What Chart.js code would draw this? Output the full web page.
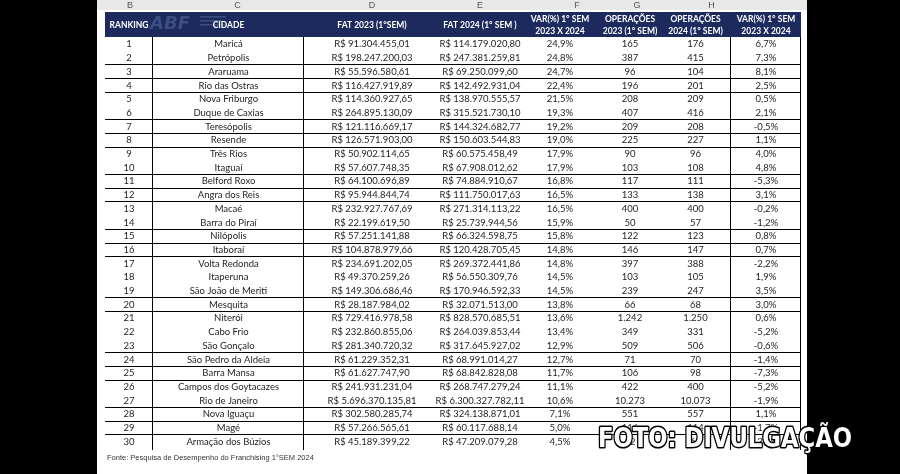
<!DOCTYPE html>
<html>
<head>
<meta charset="utf-8">
<script src="https://cdn.jsdelivr.net/npm/chart.js@4.4.1/dist/chart.umd.min.js"></script>
<style>
	html, body { margin: 0; padding: 0; background: #000; }
	canvas { display: block; }
</style>
</head>
<body>
<canvas id="tabela" width="900" height="474"></canvas>
<script>
// dados da tabela (Pesquisa ABF 1°SEM 2024)
const rankings = ['1','2','3','4','5','6','7','8','9','10','11','12','13','14','15','16','17','18','19','20','21','22','23','24','25','26','27','28','29','30'];
const cidades = ['Maricá','Petrópolis','Araruama','Rio das Ostras','Nova Friburgo','Duque de Caxias','Teresópolis','Resende','Três Rios','Itaguaí',
	'Belford Roxo','Angra dos Reis','Macaé','Barra do Piraí','Nilópolis','Itaboraí','Volta Redonda','Itaperuna','São João de Meriti','Mesquita',
	'Niterói','Cabo Frio','São Gonçalo','São Pedro da Aldeia','Barra Mansa','Campos dos Goytacazes','Rio de Janeiro','Nova Iguaçu','Magé','Armação dos Búzios'];
const fat2023 = ['R$ 91.304.455,01','R$ 198.247.200,03','R$ 55.596.580,61','R$ 116.427.919,89','R$ 114.360.927,65','R$ 264.895.130,09','R$ 121.116.669,17','R$ 126.571.903,00','R$ 50.902.114,65','R$ 57.607.748,35',
	'R$ 64.100.696,89','R$ 95.944.844,74','R$ 232.927.767,69','R$ 22.199.619,50','R$ 57.251.141,88','R$ 104.878.979,66','R$ 234.691.202,05','R$ 49.370.259,26','R$ 149.306.686,46','R$ 28.187.984,02',
	'R$ 729.416.978,58','R$ 232.860.855,06','R$ 281.340.720,32','R$ 61.229.352,31','R$ 61.627.747,90','R$ 241.931.231,04','R$ 5.696.370.135,81','R$ 302.580.285,74','R$ 57.266.565,61','R$ 45.189.399,22'];
const fat2024 = ['R$ 114.179.020,80','R$ 247.381.259,81','R$ 69.250.099,60','R$ 142.492.931,04','R$ 138.970.555,57','R$ 315.521.730,10','R$ 144.324.682,77','R$ 150.603.544,83','R$ 60.575.458,49','R$ 67.908.012,62',
	'R$ 74.884.910,67','R$ 111.750.017,63','R$ 271.314.113,22','R$ 25.739.944,56','R$ 66.324.598,75','R$ 120.428.705,45','R$ 269.372.441,86','R$ 56.550.309,76','R$ 170.946.592,33','R$ 32.071.513,00',
	'R$ 828.570.685,51','R$ 264.039.853,44','R$ 317.645.927,02','R$ 68.991.014,27','R$ 68.842.828,08','R$ 268.747.279,24','R$ 6.300.327.782,11','R$ 324.138.871,01','R$ 60.117.688,14','R$ 47.209.079,28'];
const varFat = ['24,9%','24,8%','24,7%','22,4%','21,5%','19,3%','19,2%','19,0%','17,9%','17,9%',
	'16,8%','16,5%','16,5%','15,9%','15,8%','14,8%','14,8%','14,5%','14,5%','13,8%',
	'13,6%','13,4%','12,9%','12,7%','11,7%','11,1%','10,6%','7,1%','5,0%','4,5%'];
const ops2023 = ['165','387','96','196','208','407','209','225','90','103',
	'117','133','400','50','122','146','397','103','239','66',
	'1.242','349','509','71','106','422','10.273','551','116','62'];
const ops2024 = ['176','415','104','201','209','416','208','227','96','108',
	'111','138','400','57','123','147','388','105','247','68',
	'1.250','331','506','70','98','400','10.073','557','114','60'];
const varOps = ['6,7%','7,3%','8,1%','2,5%','0,5%','2,1%','-0,5%','1,1%','4,0%','4,8%',
	'-5,3%','3,1%','-0,2%','-1,2%','0,8%','0,7%','-2,2%','1,9%','3,5%','3,0%',
	'0,6%','-5,2%','-0,6%','-1,4%','-7,3%','-5,2%','-1,9%','1,1%','-1,7%','-3,2%'];
const headers = [['RANKING'],['CIDADE'],['FAT 2023 (1°SEM)'],['FAT 2024 (1° SEM )'],['VAR(%) 1° SEM','2023 X 2024'],['OPERAÇÕES','2023 (1° SEM)'],['OPERAÇÕES','2024 (1° SEM)'],['VAR(%) 1° SEM','2023 X 2024']];
const columnLetters = ['B','C','D','E','F','G','H',''];

// layout
const colWidths = [48, 151, 136, 80, 80, 60, 71, 70];
const letterShift = [1, 9, 0, 0, 17, 7, 16, 0];
const rowBreaks = [2,3,4,6,7,8,10,11,12,14,15,16,19,20,23,24,25,27,28,29];
const navy = '#1c2a5e';

function colEdge(i) {
	let s = 0;
	for (let k = 0; k < i; k++) s += colWidths[k];
	return s;
}

function colCenter(i) {
	return colEdge(i) + colWidths[i] / 2;
}

const tablePlugin = {
	id: 'tabela',
	beforeDraw(chart) {
		const ctx = chart.ctx;
		const area = chart.chartArea;
		const xs = chart.scales.x;
		ctx.save();
		ctx.fillStyle = '#000';
		ctx.fillRect(0, 0, chart.width, chart.height);
		ctx.fillStyle = '#fff';
		ctx.fillRect(97, 0, 710, chart.height);

		// linha das letras da planilha
		ctx.fillStyle = '#e8e8e8';
		ctx.fillRect(97, 0, 710, 10);
		ctx.fillStyle = '#555';
		ctx.font = '9px "Liberation Sans"';
		ctx.textAlign = 'center';
		ctx.textBaseline = 'alphabetic';
		columnLetters.forEach((l, i) => ctx.fillText(l, xs.getPixelForValue(colCenter(i) + letterShift[i]), 8));

		// cabecalho
		ctx.fillStyle = navy;
		ctx.fillRect(area.left, 12, area.right - area.left, area.top - 12);

		// logo ABF apagado
		ctx.fillStyle = 'rgba(100,120,175,0.45)';
		ctx.font = 'italic bold 18px "DejaVu Sans"';
		ctx.textAlign = 'left';
		ctx.fillText('ABF', 150, 29);
		ctx.fillRect(200, 16, 26, 1.5);
		ctx.fillRect(200, 20, 22, 1.5);
		ctx.fillRect(200, 24, 25, 1.5);

		ctx.fillStyle = '#fff';
		ctx.font = 'bold 8.5px Lato';
		ctx.textAlign = 'center';
		ctx.textBaseline = 'middle';
		headers.forEach((h, i) => {
			const x = xs.getPixelForValue(colCenter(i));
			if (h.length == 1)
				ctx.fillText(h[0], x, 25);
			else {
				ctx.fillText(h[0], x, 19);
				ctx.fillText(h[1], x, 31);
			}
		});
		ctx.restore();
	},
	afterDatasetsDraw(chart) {
		const ctx = chart.ctx;
		const area = chart.chartArea;
		const xs = chart.scales.x;
		const ys = chart.scales.y;
		ctx.save();

		// textos das celulas
		ctx.fillStyle = '#1e1e1e';
		ctx.font = '9.5px Lato';
		ctx.textAlign = 'center';
		ctx.textBaseline = 'middle';
		chart.data.datasets.forEach((ds, i) => {
			chart.getDatasetMeta(i).data.forEach((el, j) => {
				ctx.fillText(ds.texts[j], el.x, el.y + 0.5);
			});
		});

		// bordas
		ctx.strokeStyle = '#000';
		ctx.lineWidth = 1;
		ctx.beginPath();
		rowBreaks.forEach(r => {
			const y = Math.round(ys.getPixelForValue(r - 0.5)) + 0.5;
			ctx.moveTo(area.left, y);
			ctx.lineTo(area.right, y);
		});
		[1, 2, 7, 8].forEach(c => {
			const x = Math.round(xs.getPixelForValue(colEdge(c))) - 0.5;
			ctx.moveTo(x, area.top);
			ctx.lineTo(x, area.bottom + 2);
		});
		ctx.stroke();

		// fonte
		ctx.fillStyle = '#333';
		ctx.font = '7.5px "Liberation Sans"';
		ctx.textAlign = 'left';
		ctx.fillText('Fonte: Pesquisa de Desempenho do Franchising 1°SEM 2024', 107, 458);

		// marca d'agua
		ctx.font = 'bold 26px "DejaVu Sans"';
		ctx.textBaseline = 'alphabetic';
		ctx.lineJoin = 'round';
		ctx.lineWidth = 3;
		ctx.strokeStyle = '#000';
		ctx.strokeText('FOTO: DIVULGAÇÃO', 598, 447, 254);
		ctx.fillStyle = '#fff';
		ctx.fillText('FOTO: DIVULGAÇÃO', 598, 447, 254);
		ctx.restore();
	}
};

function buildDataset(colIndex, texts) {
	return {
		texts: texts,
		data: texts.map((t, j) => ({ x: colCenter(colIndex), y: j })),
		pointRadius: 0,
		showLine: false
	};
}

document.addEventListener('DOMContentLoaded', function()
{
	const columns = [rankings, cidades, fat2023, fat2024, varFat, ops2023, ops2024, varOps];
	const total = colEdge(colWidths.length);
	new Chart(document.getElementById('tabela').getContext('2d'), {
		type: 'scatter',
		data: { datasets: columns.map((c, i) => buildDataset(i, c)) },
		options: {
			responsive: false,
			animation: false,
			events: [],
			layout: { padding: { left: 105, right: 900 - 105 - total, top: 37, bottom: 26 } },
			plugins: { legend: { display: false }, tooltip: { enabled: false } },
			scales: {
				x: { type: 'linear', display: false, min: 0, max: total },
				y: { type: 'linear', display: false, min: -0.5, max: 29.5, reverse: true }
			}
		},
		plugins: [tablePlugin]
	});
});
</script>
</body>
</html>
